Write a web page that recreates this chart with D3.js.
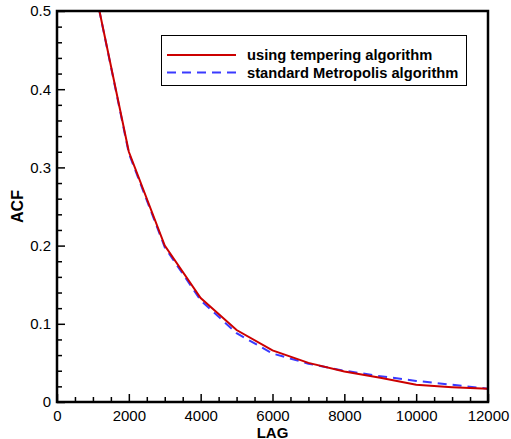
<!DOCTYPE html>
<html><head><meta charset="utf-8">
<script src="https://cdn.jsdelivr.net/npm/d3@7"></script>
<style>body{margin:0;background:#fff}svg{display:block}text{font-family:"Liberation Sans",Arial,sans-serif}</style>
</head><body>
<script>
const lags = [1000,2000,3000,4000,5000,6000,7000,8000,9000,10000,11000,12000];
const tempering = [0.54,0.32,0.200,0.133,0.092,0.066,0.050,0.039,0.031,0.022,0.019,0.017];
const metropolis = [0.54,0.318,0.198,0.130,0.088,0.062,0.049,0.040,0.033,0.027,0.022,0.017];
const xTicks = [0,2000,4000,6000,8000,10000,12000];
const yTicks = [0,0.1,0.2,0.3,0.4,0.5];
const seriesNames = ["using tempering algorithm","standard Metropolis algorithm"];

const W=511,H=439;
const m={left:57,top:11,right:23,bottom:37};
const svg=d3.select("body").append("svg").attr("width",W).attr("height",H);
const x=d3.scaleLinear().domain([0,12000]).range([m.left,W-m.right]);
const y=d3.scaleLinear().domain([0,0.5]).range([H-m.bottom,m.top]);

svg.append("clipPath").attr("id","clip").append("rect")
 .attr("x",x(0)).attr("y",y(0.5)).attr("width",x(12000)-x(0)).attr("height",y(0)-y(0.5));

const line=d3.line().x((d,i)=>x(lags[i])).y(d=>y(d));
const g=svg.append("g").attr("clip-path","url(#clip)");
g.append("path").attr("d",line(metropolis)).attr("fill","none").attr("stroke","#3a3aff").attr("stroke-width",2).attr("stroke-dasharray","9,6");
g.append("path").attr("d",line(tempering)).attr("fill","none").attr("stroke","#cc0000").attr("stroke-width",2);

// axes: ticks inward
const xMinor=d3.range(0,12001,500).filter(v=>v%2000!==0);
const yMinor=d3.range(0,0.5001,0.02).filter(v=>Math.abs(v*10-Math.round(v*10))>1e-6);
const xa=svg.append("g").attr("transform",`translate(0,${y(0)})`);
xa.call(d3.axisBottom(x).tickValues(xTicks).tickSize(-8).tickPadding(8).tickFormat(d3.format("d")));
const xm=svg.append("g").attr("transform",`translate(0,${y(0)})`);
xm.call(d3.axisBottom(x).tickValues(xMinor).tickSize(-5).tickFormat(""));
const ya=svg.append("g").attr("transform",`translate(${x(0)},0)`);
ya.call(d3.axisLeft(y).tickValues(yTicks).tickSize(-8).tickPadding(6).tickFormat(d=>d===0?"0":d3.format(".1f")(d)));
const ym=svg.append("g").attr("transform",`translate(${x(0)},0)`);
ym.call(d3.axisLeft(y).tickValues(yMinor).tickSize(-5).tickFormat(""));
svg.selectAll(".domain").remove();
svg.selectAll(".tick line").attr("stroke","#000").attr("stroke-width",1.5);
svg.selectAll(".tick text").attr("font-size",15).attr("fill","#000").style("font-family","'Liberation Sans',Arial,sans-serif");

svg.append("rect").attr("x",x(0)).attr("y",y(0.5)).attr("width",x(12000)-x(0)).attr("height",y(0)-y(0.5))
 .attr("fill","none").attr("stroke","#000").attr("stroke-width",2.5);

svg.append("text").attr("x",(x(0)+x(12000))/2).attr("y",437.5).attr("text-anchor","middle")
 .attr("font-size",15).attr("font-weight","bold").text("LAG");
svg.append("text").attr("transform",`translate(23,${(y(0)+y(0.5))/2}) rotate(-90)`).attr("text-anchor","middle")
 .attr("font-size",16).attr("font-weight","bold").text("ACF");

// legend
const lg=svg.append("g");
lg.append("rect").attr("x",161.5).attr("y",35.5).attr("width",305).attr("height",50).attr("fill","#fff").attr("stroke","#000").attr("stroke-width",1);
const cols=["#cc0000","#3a3aff"], dashes=[null,"9,6"], ly=[55,72.5];
seriesNames.forEach((n,i)=>{
  lg.append("line").attr("x1",167).attr("x2",236).attr("y1",ly[i]).attr("y2",ly[i]).attr("stroke",cols[i]).attr("stroke-width",2).attr("stroke-dasharray",dashes[i]);
  lg.append("text").attr("x",247).attr("y",ly[i]+5).attr("font-size",14.7).attr("font-weight","bold").text(n);
});
</script>
</body></html>
